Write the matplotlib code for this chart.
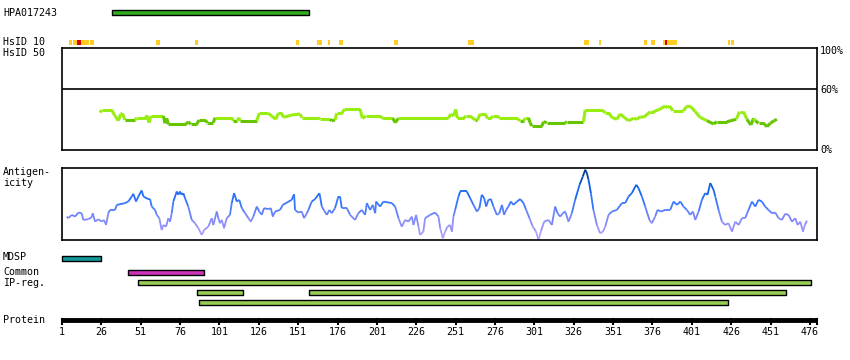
import matplotlib
matplotlib.use("Agg")
import matplotlib.pyplot as plt
import numpy as np
from matplotlib.collections import LineCollection
from matplotlib.colors import LinearSegmentedColormap

# --- data (residue positions) ---
protein_length = 480.5
protein_ticks = [1, 26, 51, 76, 101, 126, 151, 176, 201, 226, 251, 276, 301, 326, 351, 376, 401, 426, 451, 476]

antigen_name = "HPA017243"
antigen_range = (33, 158)

# HsID 10 hits: start, end, level (1 = yellow, 2 = red)
hsid_start = [5.4, 8.0, 10.5, 13.1, 18.8, 60.7, 85.5, 149.7, 163, 170, 177, 211.9, 258.9,
              332.6, 342.2, 370.8, 375.2, 382.8, 384.1, 385.4, 424.1, 426]
hsid_end = [7.2, 10.5, 13.1, 18.2, 21.3, 63.3, 87.4, 151.6, 166.2, 171.3, 179.5, 214.5, 262.7,
            335.8, 343.4, 372.7, 377.8, 384.1, 385.4, 391.7, 425.4, 428]
hsid_level = [1, 1, 2, 1, 1, 1, 1, 1, 1, 1, 1, 1, 1, 1, 1, 1, 1, 1, 2, 1, 1, 1]

# HsID 50 conservation (%)
cons_res = [25.1, 26.2, 32.6, 34.7, 36.8, 38.3, 39.3, 41.0, 47.4, 48.5, 54.2, 54.8, 56.3, 57.4,
            65.4, 66.4, 67.5, 68.5, 79.6, 81.2, 82.8, 86.6, 88.0, 91.9, 93.3, 97.1, 98.2, 108.8,
            109.8, 112.4, 113.3, 114.1, 124.7, 126.3, 132.1, 134.2, 136.8, 138.4, 140.6, 141.6,
            146.9, 152.2, 153.3, 163.8, 164.9, 171.3, 172.3, 174.4, 175.5, 178.7, 180.4, 190.3,
            191.8, 193.9, 203.0, 204.5, 211.1, 212.6, 214.7, 246.4, 247.9, 249.6, 251.1, 252.1,
            256.0, 257.5, 260.2, 263.4, 264.8, 266.6, 269.7, 271.2, 273.4, 274.6, 277.8, 278.6,
            289.9, 292.0, 294.1, 295.2, 297.3, 298.3, 299.4, 305.8, 306.8, 308.9, 320.6, 321.6,
            332.2, 333.3, 343.9, 346.0, 348.1, 350.2, 353.4, 355.5, 358.1, 360.8, 364.0, 366.1,
            368.2, 370.3, 374.6, 376.7, 380.5, 384.1, 385.6, 386.8, 389.0, 395.7, 397.9, 400.4,
            403.2, 406.3, 410.6, 414.8, 416.9, 423.3, 429.2, 431.3, 433.8, 436.0, 438.5, 440.2,
            441.3, 443.4, 446.6, 448.7, 450.8, 453.3, 455.0]
cons_pct = [36.6, 39.2, 39.2, 33.3, 28.7, 35.3, 36.0, 29.4, 29.4, 31.7, 31.7, 34.0, 26.8, 33.3,
            33.3, 26.2, 31.1, 25.2, 25.2, 27.7, 25.2, 25.2, 29.4, 29.4, 26.8, 26.8, 31.7, 31.7,
            28.7, 28.7, 31.7, 28.7, 28.7, 36.0, 36.0, 33.3, 30.1, 36.0, 36.0, 32.0,
            34.3, 35.3, 31.7, 31.7, 30.1, 30.1, 28.7, 29.4, 36.0, 36.0, 39.9, 39.9,
            31.1, 33.3, 33.3, 31.1, 31.1, 26.8, 31.1, 31.1, 35.3, 33.3, 39.9, 31.1,
            31.1, 33.3, 33.3, 29.4, 29.4, 35.3, 35.3, 31.1, 31.1, 33.3, 33.3, 31.1,
            31.1, 28.7, 28.7, 31.1, 31.1, 26.8, 23.5, 23.5, 27.7, 26.8, 26.8, 27.7,
            27.7, 39.2, 39.2, 36.6, 36.6, 32.0, 30.1, 35.3, 32.0, 28.7, 31.1, 30.1,
            32.6, 32.0, 37.5, 37.5, 39.9, 43.1, 41.5, 43.1, 38.5, 38.5, 43.1, 42.4,
            37.5, 32.0, 28.7, 25.5, 27.7, 27.7, 30.1, 37.5, 37.5, 30.1, 24.5, 31.1,
            28.7, 26.2, 26.2, 22.8, 26.2, 28.7, 30.1]

# antigenicity (relative units, 0-100)
ag_res = [4.0, 5.0, 7.2, 9.3, 11.4, 13.5, 14.5, 17.7, 19.9, 20.5, 22.0, 24.1, 26.2, 27.7, 29.0,
          30.4, 31.5, 34.7, 35.8, 41.0, 43.1, 45.3, 46.3, 48.0, 49.5, 51.6, 52.7, 55.8, 56.9,
          58.0, 60.1, 61.2, 62.8, 64.3, 65.4, 67.1, 68.5, 69.6, 70.7, 71.7, 73.9, 74.9, 76.0,
          77.0, 78.1, 79.1, 81.2, 83.4, 85.5, 87.6, 89.8, 91.2, 93.9, 96.1, 97.1, 99.3, 100.3,
          101.4, 102.5, 103.9, 105.6, 107.7, 108.8, 110.3, 112.0, 113.6, 115.2, 117.3, 119.4,
          120.9, 122.5, 124.7, 126.3, 127.9, 129.3, 132.1, 133.6, 134.9, 136.3, 139.5, 141.2,
          143.8, 146.9, 148.4, 149.0, 151.1, 153.3, 154.7, 156.5, 157.5, 159.6, 161.7, 164.5,
          166.0, 167.5, 169.2, 170.8, 172.3, 174.4, 176.5, 177.6, 178.7, 181.9, 184.0, 187.1,
          189.2, 191.4, 193.5, 194.6, 196.7, 198.4, 199.9, 200.5, 203.0, 205.1, 210.5, 212.6,
          214.7, 216.8, 218.9, 221.0, 223.2, 224.2, 225.9, 227.4, 228.4, 230.5, 231.6, 234.8,
          238.0, 240.1, 241.2, 242.9, 244.3, 245.8, 247.5, 248.6, 249.6, 250.7, 252.8, 253.9,
          258.1, 260.2, 262.3, 264.5, 266.1, 267.6, 269.1, 270.4, 271.8, 273.4, 275.0, 277.2,
          278.8, 280.4, 281.8, 283.1, 284.5, 286.1, 287.7, 289.9, 292.0, 294.1, 295.8, 297.9,
          300.0, 302.1, 303.6, 305.1, 307.2, 310.0, 312.1, 314.2, 315.7, 317.4, 319.1, 320.6,
          322.7, 324.8, 326.9, 329.7, 331.8, 333.3, 334.3, 335.4, 336.9, 338.5, 340.7, 342.8,
          344.5, 346.0, 348.1, 350.2, 353.4, 356.6, 358.7, 360.8, 362.9, 365.7, 367.1, 369.3,
          371.4, 374.1, 375.6, 377.7, 379.2, 381.4, 384.1, 387.3, 389.4, 391.5, 393.7, 395.7,
          397.9, 400.0, 401.7, 403.2, 405.3, 407.4, 409.5, 411.0, 412.7, 414.8, 415.9, 418.0,
          420.1, 422.2, 424.3, 426.5, 428.6, 430.7, 432.8, 434.9, 437.0, 439.2, 441.3, 443.4,
          445.5, 447.6, 449.7, 451.9, 454.0, 456.1, 458.2, 460.3, 462.4, 464.6, 466.7, 468.2,
          469.9, 471.6, 472.8, 474.1]
ag_val = [32.5, 30.3, 34.9, 32.5, 38.1, 37.2, 27.9, 28.9, 31.7, 37.2, 25.5, 28.9, 25.5, 27.9, 20.9,
          37.2, 41.8, 41.8, 48.8, 51.2, 53.4, 60.4, 64.2, 53.4, 60.4, 68.8, 60.4, 56.8, 56.8,
          46.4, 41.8, 34.9, 30.3, 13.9, 20.9, 18.5, 30.3, 25.5, 37.2, 53.4, 67.4, 62.8, 67.4,
          62.8, 65.1, 58.2, 46.4, 27.9, 23.3, 16.3, 7.0, 13.9, 18.5, 30.3, 20.9, 39.5, 30.3,
          23.3, 27.9, 16.3, 30.3, 34.9, 51.2, 65.1, 53.4, 55.8, 44.2, 37.2, 30.3,
          25.5, 32.5, 46.4, 39.5, 34.9, 44.2, 42.8, 44.2, 32.5, 39.5, 41.8, 48.8,
          52.0, 55.8, 63.7, 41.8, 38.1, 39.5, 30.3, 37.2, 41.8, 53.4, 56.8, 65.1,
          46.4, 40.9, 34.9, 41.8, 37.2, 44.2, 60.4, 60.4, 44.2, 44.2, 34.9, 27.9,
          37.2, 41.8, 34.9, 51.2, 41.8, 48.8, 37.2, 53.4, 46.4, 53.4, 51.2, 46.4,
          30.3, 18.5, 27.9, 25.5, 32.5, 20.9, 34.9, 18.5, 7.0, 11.6, 30.3, 34.9,
          38.1, 32.5, 16.3, 2.4, 11.6, 18.5, 20.9, 11.6, 32.5, 41.8, 60.4, 67.4,
          67.4, 58.2, 48.8, 39.5, 44.2, 62.8, 58.2, 46.4, 55.8, 56.8, 46.4, 34.9,
          37.2, 48.8, 34.9, 41.8, 46.4, 53.4, 48.8, 53.4, 56.8, 51.2, 41.8, 30.3,
          18.5, 11.6, 0.0, 11.6, 25.5, 27.9, 20.9, 46.4, 37.2, 32.5, 37.2, 39.5,
          25.5, 37.2, 55.8, 76.7, 88.3, 97.6, 93.0, 83.7, 65.1, 41.8, 20.9, 9.3,
          11.6, 18.5, 34.9, 39.5, 41.8, 51.2, 51.2, 60.4, 65.1, 76.7, 72.1, 60.4,
          46.4, 27.9, 23.3, 32.5, 41.8, 39.5, 41.8, 41.8, 53.4, 48.8, 53.4, 46.4,
          41.8, 34.9, 39.5, 27.9, 39.5, 55.8, 65.1, 62.8, 79.1, 69.7, 60.4, 41.8,
          25.5, 20.9, 23.3, 11.6, 25.5, 20.9, 30.3, 30.3, 41.8, 53.4, 46.4, 55.8,
          53.4, 46.4, 41.8, 37.2, 38.1, 30.3, 27.9, 36.3, 34.9, 25.5, 30.3, 20.9,
          25.5, 11.6, 20.9, 26.9]

# feature tracks: start, end
mdsp_ranges = [(1, 26)]
common_ranges = [(43, 91)]
ipreg_rows = [[(49, 477)], [(87, 116), (158, 461)], [(88, 424)]]

# --- layout (pixel based, 850x360) ---
W, H = 850, 360
X0, X1 = 62, 817
PX = (X1 - X0) / (protein_length - 1)
FONT = dict(family="DejaVu Sans Mono", fontsize=7.2, color="black")

fig = plt.figure(figsize=(W / 100, H / 100), dpi=100)
fig.patch.set_facecolor("white")


def box_axes(top, bottom):
    return fig.add_axes([X0 / W, 1 - bottom / H, (X1 - X0) / W, (bottom - top) / H])


def label(x, y, s, **kw):
    base.text(x / W, 1 - y / H, s, transform=base.transAxes, va="center", **{**FONT, **kw})


# overlay axes for the simple tracks: x in residues, y in pixels
base = fig.add_axes([0, 0, 1, 1])
base.set_xlim(1 - X0 / PX, 1 + (W - X0) / PX)
base.set_ylim(H, 0)
base.axis("off")


def bars(ranges, y, h, color):
    base.broken_barh([(s, e - s) for s, e in ranges], (y, h), facecolors=color,
                     edgecolors="black", linewidth=1)


# antigen
label(3, 13, antigen_name)
bars([antigen_range], 10, 5, "#33aa22")

# HsID 10 strip
label(3, 42, "HsID 10")
hsid_colors = {1: "#ffcc22", 2: "#dd0000"}
for s, e, lv in zip(hsid_start, hsid_end, hsid_level):
    base.axvspan(s, e, ymin=1 - 45 / H, ymax=1 - 40 / H, color=hsid_colors[lv], lw=0)
label(3, 53, "HsID 50")

# conservation box
ax_c = box_axes(48, 150)
ax_c.set_xlim(1, protein_length)
ax_c.set_ylim(0, 100)
ax_c.set_xticks([])
ax_c.set_yticks([])
for sp in ax_c.spines.values():
    sp.set_linewidth(1.2)
ax_c.axhline(60, color="black", lw=1.2)
pts = np.column_stack([cons_res, cons_pct])
seg = np.stack([pts[:-1], pts[1:]], axis=1)
mid = (np.array(cons_pct[:-1]) + np.array(cons_pct[1:])) / 2
cons_colors = np.where(mid >= 29.8, "#99ee11", "#66c400")
ax_c.add_collection(LineCollection(seg, colors=list(cons_colors), linewidths=2.2))
label(820, 51, "100%")
label(820, 90, "60%")
label(820, 150, "0%")

# antigenicity box
ax_a = box_axes(168, 240)
ax_a.set_xlim(1, protein_length)
ax_a.set_ylim(0, 100)
ax_a.set_xticks([])
ax_a.set_yticks([])
for sp in ax_a.spines.values():
    sp.set_linewidth(1.2)
ag_cmap = LinearSegmentedColormap.from_list(
    "ag", [(0, "#b8a8ff"), (0.3, "#8088f8"), (0.5, "#3a78ff"), (0.75, "#0a60e8"), (1, "#003070")])
pts = np.column_stack([ag_res, ag_val])
seg = np.stack([pts[:-1], pts[1:]], axis=1)
mid = (np.array(ag_val[:-1]) + np.array(ag_val[1:])) / 2
ax_a.add_collection(LineCollection(seg, colors=ag_cmap(mid / 100), linewidths=1.3))
label(3, 172, "Antigen-")
label(3, 183, "icity")

# feature tracks
label(3, 257, "MDSP")
bars(mdsp_ranges, 255.5, 5, "#119999")
label(3, 272, "Common")
bars(common_ranges, 270, 4.5, "#cc33bb")
label(3, 283, "IP-reg.")
for i, row in enumerate(ipreg_rows):
    bars(row, 280 + i * 10, 4.5, "#99cc55")

# protein axis
label(3, 320, "Protein")
base.plot([1, protein_length], [319.5, 319.5], color="black", lw=3.5, solid_capstyle="butt")
for t in protein_ticks + [protein_length]:
    base.plot([t, t], [319, 324], color="black", lw=1.5)
for t in protein_ticks:
    base.text(t, 332, str(t), ha="center", va="center", **FONT)

fig.savefig("out.png", dpi=100)
